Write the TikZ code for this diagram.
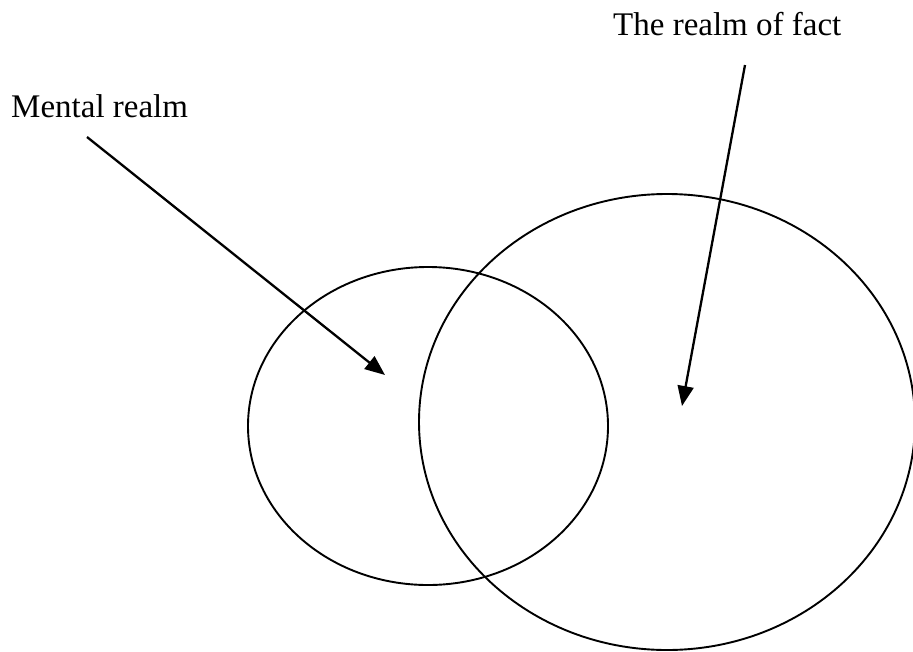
\documentclass[tikz,border=0pt]{standalone}
\usepackage{fontspec}
\setmainfont{Liberation Serif}
\usetikzlibrary{arrows.meta}
\begin{document}
\begin{tikzpicture}[x=1pt,y=-1pt,
  lbl/.style={anchor=base west,inner sep=0pt,font=\fontsize{33}{36}\selectfont},
  ring/.style={line width=1.9pt},
  pointer/.style={line width=2.3pt,-{Triangle[length=20pt,width=16pt]}}]
\useasboundingbox (0,0) rectangle (913,651);
\clip (0,0) rectangle (913,651);
\draw[ring] (428,426) ellipse [x radius=180,y radius=159];
\draw[ring] (667,422) ellipse [x radius=248,y radius=228];
\node[lbl] (mental) at (11,117) {Mental realm};
\node[lbl] (fact) at (613,35) {The realm of fact};
\coordinate (ms) at (87,137);
\coordinate (me) at (385,375);
\coordinate (fs) at (745,65);
\coordinate (fe) at (682,406);
\draw[pointer] (ms) -- (me);
\draw[pointer] (fs) -- (fe);
\end{tikzpicture}
\end{document}
